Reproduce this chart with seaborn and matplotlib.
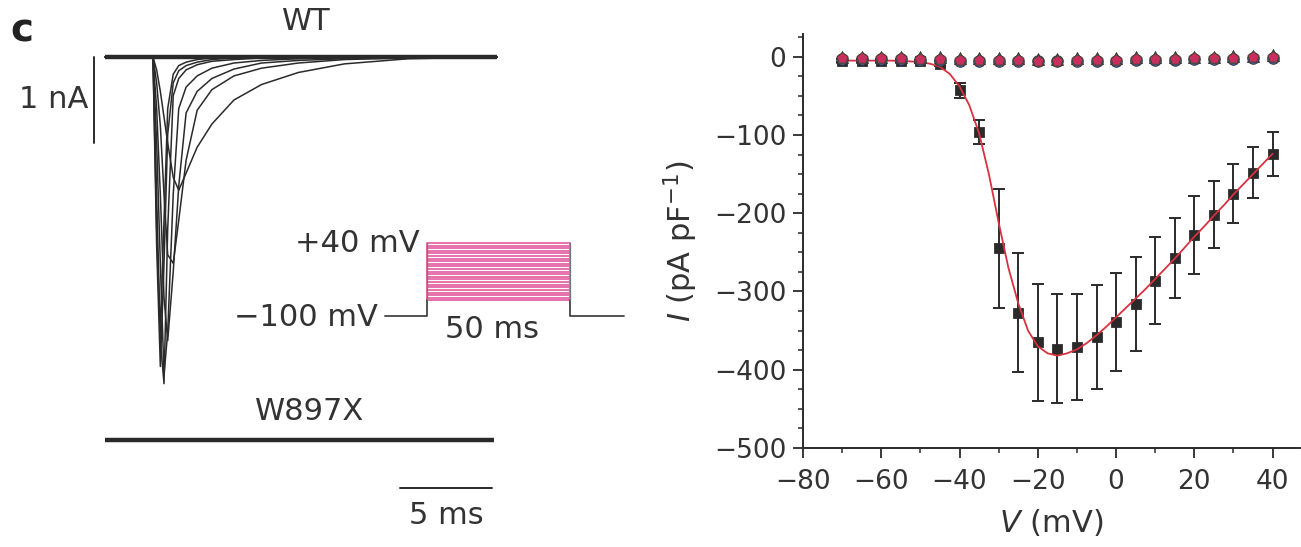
import matplotlib
matplotlib.use("Agg")
import matplotlib.pyplot as plt
from matplotlib.ticker import MultipleLocator
import pandas as pd
import seaborn as sns

# ---- I-V data (pA/pF) ----
volt = [-70, -65, -60, -55, -50, -45, -40, -35, -30, -25, -20, -15,
        -10, -5, 0, 5, 10, 15, 20, 25, 30, 35, 40]
wt_mean = [-5, -5, -5, -5, -6, -9, -43, -96, -245, -327, -365, -373,
           -371, -358, -339, -316, -286, -257, -228, -202, -175, -148, -124]
wt_sem = [2, 2, 2, 2, 2, 3, 10, 15, 76, 76, 75, 70,
          68, 66, 63, 60, 55, 51, 50, 43, 38, 33, 28]
mut_red = [-2, -2, -2, -2, -3, -3, -4, -4, -4, -4, -5, -5,
           -4, -4, -4, -3, -3, -3, -2, -2, -2, -1, -1]
mut_blue = [-3, -3, -3, -3, -4, -4, -5, -5, -5, -5, -6, -6,
            -5, -5, -5, -4, -4, -4, -3, -3, -3, -2, -2]
mut_green = [0, 0, 0, 0, -1, -1, -2, -2, -2, -2, -3, -3,
             -2, -2, -2, -1, -1, -1, 0, 0, 1, 1, 2]

fit_v = [-70, -67.5, -65, -62.5, -60, -57.5, -55, -52.5, -50, -47.5, -45,
         -42.5, -40, -37.5, -35, -32.5, -30, -27.5, -25, -22.5, -20, -17.5,
         -15, -12.5, -10, -7.5, -5, -2.5, 0, 2.5, 5, 7.5, 10, 12.5, 15,
         17.5, 20, 22.5, 25, 27.5, 30, 32.5, 35, 37.5, 40]
fit_i = [-5, -5, -5, -5, -5, -5, -5.5, -6, -7, -9, -13,
         -22, -38, -62, -98, -150, -212, -270, -315, -350, -370, -379,
         -382, -379, -374, -366, -356, -345, -333, -321, -309, -297, -284, -271, -258,
         -244, -230, -217, -203, -190, -176, -163, -150, -137, -124]

# ---- WT current traces (ms, nA) ----
t_ms = [0, 2.6, 2.8, 3.0, 3.2, 3.4, 3.7, 4.0, 4.4, 5.0, 5.8, 7.0, 8.5, 10.5, 13.0, 16.5, 21.3]
traces = {
    "tr1": [0, 0, -0.15, -0.4, -0.7, -1.0, -1.4, -1.55, -1.35, -1.05, -0.78, -0.5, -0.32, -0.18, -0.08, -0.02, 0],
    "tr2": [0, 0, -0.3, -0.8, -1.6, -2.3, -2.4, -1.9, -1.2, -0.62, -0.38, -0.22, -0.13, -0.07, -0.03, -0.01, 0],
    "tr3": [0, 0, -0.6, -1.6, -2.8, -3.3, -2.5, -1.5, -0.65, -0.4, -0.25, -0.14, -0.07, -0.04, -0.02, 0, 0],
    "tr4": [0, 0, -1.0, -2.4, -3.7, -3.2, -1.6, -0.6, -0.35, -0.22, -0.13, -0.07, -0.04, -0.02, 0, 0, 0],
    "tr5": [0, 0, -1.6, -3.3, -3.8, -2.0, -0.45, -0.25, -0.15, -0.09, -0.05, -0.03, -0.01, 0, 0, 0, 0],
    "tr6": [0, 0, -2.2, -3.6, -2.4, -0.9, -0.3, -0.16, -0.1, -0.06, -0.03, -0.01, 0, 0, 0, 0, 0],
    "tr7": [0, 0, -2.0, -3.2, -1.9, -0.6, -0.2, -0.1, -0.06, -0.03, -0.01, 0, 0, 0, 0, 0, 0],
}
mut_offset = -4.45  # W897X trace drawn below WT

# ---- voltage protocol ----
hold_mv = -100
step_mv = [-70, -65, -60, -55, -50, -45, -40, -35, -30, -25, -20, -15,
           -10, -5, 0, 5, 10, 15, 20, 25, 30, 35, 40]
step_ms = 50

W, H = 1301, 547
sns.set_style("ticks")
plt.rcParams["font.family"] = ["DejaVu Sans"]
plt.rcParams["mathtext.fontset"] = "dejavusans"
ink = "#2a2a2a"
txt = "#333333"
fs = 22

fig = plt.figure(figsize=(W / 100, H / 100), dpi=100)


def fpos(x, y):
    return x / W, 1 - y / H


# ---------- left: traces ----------
ax_tr = fig.add_axes([0, 0, 650 / W, 1])
ax_tr.set_xlim(-5.71, 29.6)
ax_tr.set_ylim(-5.70, 0.663)
ax_tr.axis("off")

df_tr = pd.DataFrame([(k, t, i) for k, v in traces.items() for t, i in zip(t_ms, v)],
                     columns=["trace", "t", "I"])
sns.lineplot(data=df_tr, x="t", y="I", units="trace", estimator=None, sort=False,
             color=ink, lw=1.1, ax=ax_tr, legend=False)
ax_tr.plot([t_ms[0], t_ms[-1]], [0, 0], color=ink, lw=3.2, solid_capstyle="butt")
ax_tr.plot([t_ms[0], t_ms[-1] - 0.2], [mut_offset, mut_offset], color=ink, lw=3.2,
           solid_capstyle="butt")
# scale bars
ax_tr.plot([-0.6, -0.6], [0, -1], color=ink, lw=1.4)
ax_tr.plot([16.03, 21.03], [-5.01, -5.01], color=ink, lw=1.4)

fig.text(*fpos(10, 30), "c", fontsize=28, fontweight="bold", color="#222", va="center")
fig.text(*fpos(306, 22), "WT", fontsize=fs, color=txt, ha="center", va="center")
fig.text(*fpos(88, 100), "1 nA", fontsize=fs, color=txt, ha="right", va="center")
fig.text(*fpos(310, 411), "W897X", fontsize=fs, color=txt, ha="center", va="center")
fig.text(*fpos(446, 516), "5 ms", fontsize=fs, color=txt, ha="center", va="center")

# ---------- protocol inset ----------
ax_p = fig.add_axes([380 / W, (547 - 320) / H, 250 / W, 82 / H])
ax_p.set_xlim(-16.4, 71)
ax_p.set_ylim(-107.7, 49.6)
ax_p.axis("off")
for v in step_mv:
    ax_p.plot([0, 0, step_ms, step_ms], [-70, v, v, -70], color="#e566a6", lw=1.3,
              solid_joinstyle="miter")
ax_p.plot([-14.7, 0, 0], [hold_mv, hold_mv, -70], color="#444", lw=1.3)
ax_p.plot([step_ms, step_ms, step_ms + 19], [-70, hold_mv, hold_mv], color="#444", lw=1.3)
ax_p.plot([0, 0], [-70, 40], color="#777", lw=0.9)
ax_p.plot([step_ms, step_ms], [-70, 40], color="#777", lw=0.9)
fig.text(*fpos(420, 243), "+40 mV", fontsize=fs, color=txt, ha="right", va="center")
fig.text(*fpos(378, 318), "\u2212100 mV", fontsize=fs, color=txt, ha="right", va="center")
fig.text(*fpos(492, 330), "50 ms", fontsize=fs, color=txt, ha="center", va="center")

# ---------- right: I-V ----------
ax = fig.add_axes([803 / W, 99 / H, 497 / W, 414 / H])
ax.errorbar(volt, wt_mean, yerr=wt_sem, fmt="none", ecolor=ink, elinewidth=1.4,
            capsize=4, capthick=1.4, zorder=2)
sns.scatterplot(x=volt, y=wt_mean, marker="s", s=50, color=ink, edgecolor=ink,
                ax=ax, zorder=3)
sns.lineplot(x=fit_v, y=fit_i, color="#d8313f", lw=1.3, ax=ax, zorder=4)
sns.scatterplot(x=volt, y=mut_green, marker="^", s=75, color="#2f8f4e", edgecolor="#333",
                linewidth=0.6, ax=ax, zorder=5)
sns.scatterplot(x=volt, y=mut_blue, marker="o", s=70, color="#3d5fa8", edgecolor="#333",
                linewidth=0.6, ax=ax, zorder=6)
sns.scatterplot(x=volt, y=mut_red, marker="p", s=70, color="#c92f5c", edgecolor="#443",
                linewidth=0.7, ax=ax, zorder=7)

ax.set_xlim(-80, 47)
ax.set_ylim(-500, 29)
ax.xaxis.set_major_locator(MultipleLocator(20))
ax.xaxis.set_minor_locator(MultipleLocator(10))
ax.yaxis.set_major_locator(MultipleLocator(100))
ax.yaxis.set_minor_locator(MultipleLocator(25))
ax.tick_params(which="major", direction="out", length=7, width=1.3, colors=ink,
               labelsize=19, labelcolor=txt)
ax.tick_params(axis="x", which="major", pad=8)
ax.tick_params(axis="y", which="major", pad=5)
ax.tick_params(which="minor", direction="out", length=3.5, width=1.1, colors=ink)
for s in ["left", "bottom"]:
    ax.spines[s].set_color(ink)
    ax.spines[s].set_linewidth(1.4)
sns.despine(ax=ax)
ax.set_xlabel(r"$\mathit{V}$ (mV)", fontsize=fs, color=txt, labelpad=9)
ax.set_ylabel(r"$\mathit{I}$ (pA pF$^{-1}$)", fontsize=fs, color=txt, labelpad=10)

fig.savefig("out.png", dpi=100)
